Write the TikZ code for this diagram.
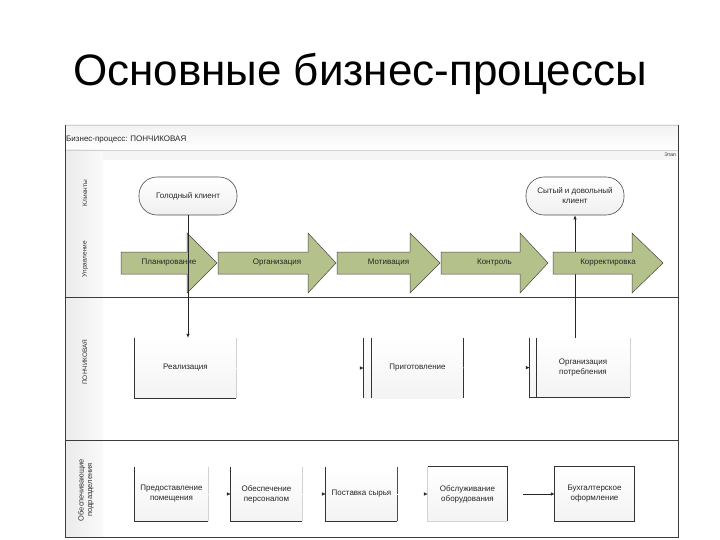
\documentclass[tikz,border=0pt]{standalone}
\usepackage{fontspec}
\setmainfont{Liberation Sans}
\usetikzlibrary{arrows.meta}
\definecolor{arrgreen}{RGB}{180,193,138}
\definecolor{framegray}{RGB}{60,60,60}
\newcommand{\greenarrow}[5]{%
  \draw[garrow] (#2,252) -- (#3,252) -- (#3,233) -- (#4,263) -- (#3,293) -- (#3,274) -- (#2,274) -- cycle;
  \node[atext] (#1) at ({(#2+#4)/2},263) {#5};}
\begin{document}
\begin{tikzpicture}[x=1pt,y=-1pt,
  frame/.style={draw=framegray,line width=0.8pt},
  lanelbl/.style={font=\fontsize{6.5}{7.5}\selectfont,text=black!80,align=center,inner sep=0pt},
  oval/.style={draw=black!70,line width=0.6pt,rounded corners=18pt,top color=white,bottom color=gray!12,
    minimum width=98pt,minimum height=38pt,inner sep=1pt,align=center,font=\fontsize{8}{10}\selectfont,text=black!85},
  garrow/.style={fill=arrgreen,draw=gray!55!black,line width=0.5pt},
  atext/.style={font=\fontsize{8}{10}\selectfont,text=black!85,inner sep=0pt},
  pbox/.style={top color=white,bottom color=gray!9,inner sep=0pt,align=center,
    font=\fontsize{8}{10}\selectfont,text=black!85},
  dk/.style={draw=black!80,line width=0.8pt},
  lt/.style={draw=gray!35,line width=0.8pt},
  conn/.style={draw=black!85,line width=0.7pt,-{Latex[length=4pt,width=3.5pt]}},
  ghost/.style={draw=white,line width=0.5pt,-{Latex[length=4pt,width=3.5pt,color=black!85]}}
]
\useasboundingbox (0,0) rectangle (720,540);
\fill[white] (0,0) rectangle (720,540);

% title
\node[font=\fontsize{44}{50}\selectfont,anchor=base,inner sep=0pt] (title) at (360,86) {Основные бизнес-процессы};

% frame background
\shade[top color=gray!10,bottom color=white] (65,125) rectangle (678,150);
\fill[gray!8] (103,150) rectangle (678,160);
\shade[left color=gray!16,right color=gray!4] (65,150) rectangle (103,537);
\draw[gray!35,line width=0.5pt] (65,150) -- (678,150);
\draw[gray!35,line width=0.5pt] (65,125) -- (678,125);
\draw[frame] (65,125) -- (65,537) -- (678,537) -- (678,125);
\draw[frame] (65,297) -- (678,297);
\draw[frame] (65,440) -- (678,440);

\node[font=\fontsize{8}{10}\selectfont,anchor=west,inner sep=0pt,text=black!85] (hdr) at (66,140) {Бизнес-процесс: ПОНЧИКОВАЯ};
\node[font=\fontsize{5}{6}\selectfont,anchor=east,inner sep=0pt,text=black!85] (etap) at (676,155) {Этап};

% lane labels
\node[lanelbl,rotate=90] (lk) at (85,193) {Клиенты};
\node[lanelbl,rotate=90] (lu) at (85,259) {Управление};
\node[lanelbl,rotate=90] (lp) at (85,362) {ПОНЧИКОВАЯ};
\node[lanelbl,rotate=90,font=\fontsize{7.5}{8.5}\selectfont] (lo) at (86,490) {Обеспечивающие\\подразделения};

% ovals
\node[oval] (ov1) at (188,196) {Голодный клиент};
\node[oval] (ov2) at (575,196) {Сытый и довольный\\клиент};

% process boxes (lane ПОНЧИКОВАЯ)
\node[pbox,minimum width=101pt,minimum height=60pt] (real) at (185.5,368) {Реализация};
\node[pbox,minimum width=99pt,minimum height=60pt] (prig) at (413.5,368) {\hspace*{8pt}Приготовление};
\node[pbox,minimum width=100pt,minimum height=59pt] (orgp) at (580,367.5) {\hspace*{6pt}Организация\\\hspace*{6pt}потребления};

% connector behind arrows
\draw[conn] (orgp.north -| ov2.south) -- (ov2.south);

% green arrows
\greenarrow{plan}{121}{187}{217}{Планирование}
\greenarrow{org}{218}{308}{336}{Организация}
\greenarrow{mot}{337}{410}{440}{Мотивация}
\greenarrow{kon}{441}{520}{548}{Контроль}
\greenarrow{kor}{553}{632}{663}{Корректировка}

\draw[conn] (ov1.south) -- (real.north -| ov1.south);

% box edges
\draw[dk] (real.north west) -- (real.south west) -- (real.south east);
\draw[lt] (real.south east) -- (real.north east);
\draw[dk] (prig.north west) -- (prig.south west);
\draw[dk] ([xshift=8pt]prig.north west) -- ([xshift=8pt]prig.south west);
\draw[dk] (prig.north east) -- (prig.south east);
\draw[dk] (orgp.north west) -- (orgp.south west) -- (orgp.south east);
\draw[dk] ([xshift=7pt]orgp.north west) -- ([xshift=7pt]orgp.south west);
\draw[lt] (orgp.south east) -- (orgp.north east);

% supporting lane
\node[pbox,minimum width=73pt,minimum height=54pt] (b1) at (171.5,494) {Предоставление\\помещения};
\node[pbox,minimum width=71pt,minimum height=54pt] (b2) at (266.5,494) {Обеспечение\\персоналом};
\node[pbox,minimum width=71pt,minimum height=54pt] (b3) at (361.5,494) {Поставка сырья};
\node[pbox,minimum width=79pt,minimum height=54pt] (b4) at (467.5,494) {Обслуживание\\оборудования};
\node[pbox,minimum width=79pt,minimum height=54pt] (b5) at (594.5,494) {Бухгалтерское\\оформление};

\draw[dk] (b1.north west) -- (b1.south west) -- (b1.south east);
\draw[lt] (b1.south east) -- (b1.north east);
\draw[dk] (b2.north west) -- (b2.south west) -- (b2.south east);
\draw[lt] (b2.south east) -- (b2.north east);
\draw[dk] (b3.north west) -- (b3.south west) -- (b3.south east);
\draw[draw=gray!60!black,line width=0.8pt] (b3.south east) -- (b3.north east);
\draw[lt] (b4.north west) -- (b4.south west) -- (b4.south east);
\draw[dk] (b4.north west) -- (b4.north east) -- (b4.south east);
\draw[dk] (b5.north west) rectangle (b5.south east);

% connectors
\draw[ghost] (real) -- (prig);
\draw[ghost] (prig) -- (orgp);
\draw[ghost] (b1) -- (b2);
\draw[ghost] (b2) -- (b3);
\draw[ghost] (b3) -- (b4);
\draw[conn,shorten <=16pt] (b4) -- (b5);
\end{tikzpicture}
\end{document}
